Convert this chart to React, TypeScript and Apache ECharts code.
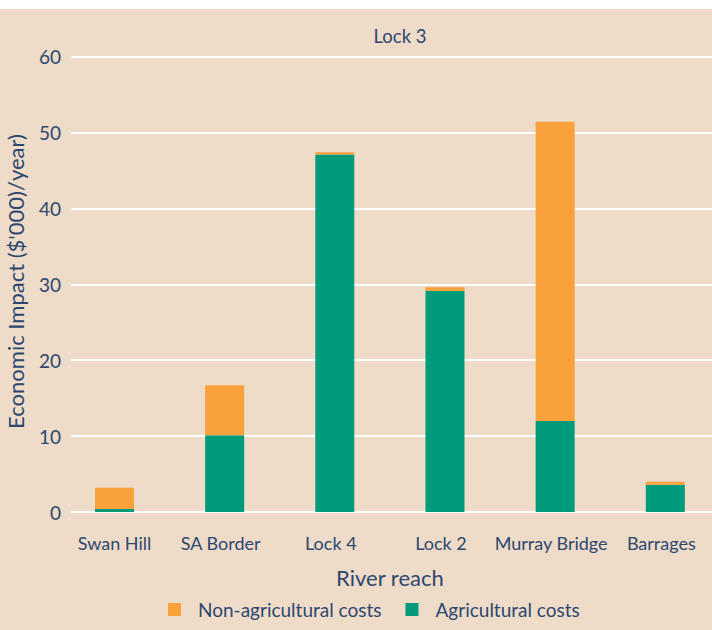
import React, { useEffect, useRef } from "react";
import * as echarts from "echarts";

const reaches = ["Swan Hill", "SA Border", "Lock 4", "Lock 2", "Murray Bridge", "Barrages"];
const agriculturalCosts = [0.4, 10.1, 47.1, 29.1, 12.0, 3.6];
const nonAgriculturalCosts = [2.8, 6.6, 0.3, 0.5, 39.4, 0.4];
const yTicks = { min: 0, max: 60, interval: 10 };

const TEXT = "#2C4770";
const FONT = "Lato, sans-serif";
const BG = "#EFDCC8";

// Reach labels sit a few pixels left of their bars, except the first one.
const reachLabels = reaches.map((name, i) => ({
  value: name,
  textStyle: { padding: i === 0 ? [0, 0, 0, 0] : [0, 8, 0, 0] },
}));

export default function App() {
  const ref = useRef<HTMLDivElement>(null);

  useEffect(() => {
    if (!ref.current) return;
    const chart = echarts.init(ref.current, undefined, { renderer: "svg" });
    const top = 47.5;
    const bottom = 118;

    chart.setOption({
      animation: false,
      backgroundColor: BG,
      textStyle: { fontFamily: FONT, color: TEXT },
      grid: [
        { left: 71, right: 0, top, bottom, outerBoundsMode: "none" },
        { left: 59.4, width: 661, top, bottom, outerBoundsMode: "none" },
      ],
      xAxis: [
        { type: "category", gridIndex: 0, data: reaches, show: false },
        {
          type: "category",
          gridIndex: 1,
          data: reachLabels,
          axisLine: { show: false },
          axisTick: { show: false },
          axisLabel: { color: TEXT, fontSize: 18, fontFamily: FONT, margin: 22, interval: 0 },
          name: "River reach",
          nameLocation: "middle",
          nameGap: 54,
          nameTextStyle: { color: TEXT, fontSize: 22, fontFamily: FONT },
        },
      ],
      yAxis: [
        {
          type: "value",
          gridIndex: 0,
          ...yTicks,
          axisLine: { show: false },
          axisTick: { show: false },
          axisLabel: { color: TEXT, fontSize: 19, fontFamily: FONT, margin: 10 },
          splitLine: { lineStyle: { color: "#FFFFFF", width: 2 } },
        },
        { type: "value", gridIndex: 1, ...yTicks, show: false, splitLine: { show: false } },
      ],
      legend: {
        data: ["Non-agricultural costs", "Agricultural costs"],
        left: 163,
        top: 586,
        itemWidth: 13,
        itemHeight: 13,
        itemGap: 24,
        icon: "rect",
        textStyle: { color: TEXT, fontSize: 19, fontFamily: FONT, padding: [0, 0, 0, 12] },
      },
      graphic: [
        {
          type: "text",
          x: 400,
          y: 26.7,
          style: {
            text: "Lock 3",
            fill: TEXT,
            font: `18.5px ${FONT}`,
            textAlign: "center",
            textVerticalAlign: "middle",
          },
        },
        {
          type: "text",
          x: 15,
          y: 272.5,
          rotation: Math.PI / 2,
          style: {
            text: "Economic Impact ($'000)/year)",
            fill: TEXT,
            font: `22px ${FONT}`,
            textAlign: "center",
            textVerticalAlign: "middle",
          },
        },
      ],
      series: [
        {
          name: "Agricultural costs",
          type: "bar",
          stack: "cost",
          xAxisIndex: 1,
          yAxisIndex: 1,
          barWidth: 39,
          itemStyle: { color: "#009B7B" },
          data: agriculturalCosts,
        },
        {
          name: "Non-agricultural costs",
          type: "bar",
          stack: "cost",
          xAxisIndex: 1,
          yAxisIndex: 1,
          barWidth: 39,
          itemStyle: { color: "#F9A13B" },
          data: nonAgriculturalCosts,
        },
      ],
    });

    return () => chart.dispose();
  }, []);

  return (
    <div
      ref={ref}
      style={{ position: "absolute", left: 0, top: 9, width: 712, height: 621 }}
    />
  );
}
